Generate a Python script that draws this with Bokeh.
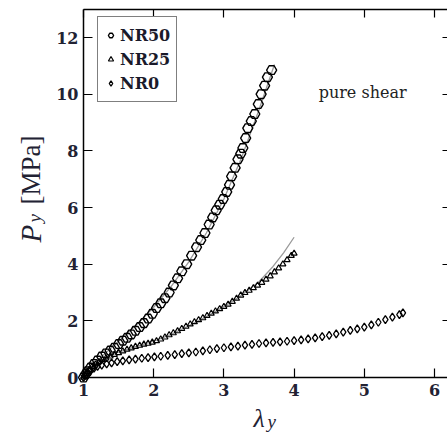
import math
from bokeh.plotting import figure
from bokeh.models import (Label, Legend, LegendItem, LinearAxis, FixedTicker, Range1d)
from bokeh.embed import file_html
from bokeh.resources import INLINE

# ---------------- data ----------------
nr50_x = [1.00, 1.03, 1.06, 1.10, 1.15, 1.20, 1.26, 1.32, 1.38, 1.44, 1.50, 1.56,
          1.62, 1.68, 1.74, 1.80, 1.86, 1.92, 1.98, 2.04, 2.10, 2.16, 2.22, 2.28,
          2.34, 2.40, 2.47, 2.54, 2.61, 2.67, 2.73, 2.79, 2.84, 2.89, 2.94, 2.99,
          3.04, 3.08, 3.11, 3.16, 3.20, 3.24, 3.27, 3.31, 3.34, 3.39, 3.44, 3.49,
          3.53, 3.58, 3.62, 3.68]
nr50_y = [0.00, 0.12, 0.22, 0.35, 0.48, 0.60, 0.74, 0.85, 0.95, 1.05, 1.18, 1.30,
          1.40, 1.52, 1.65, 1.78, 1.92, 2.08, 2.25, 2.45, 2.62, 2.80, 3.00, 3.25,
          3.50, 3.75, 4.00, 4.30, 4.60, 4.85, 5.10, 5.40, 5.65, 5.90, 6.10, 6.30,
          6.55, 6.80, 7.10, 7.40, 7.70, 7.90, 8.10, 8.45, 8.80, 9.05, 9.30, 9.65,
          10.00, 10.30, 10.60, 10.85]

nr25_x = [1.00, 1.04, 1.08, 1.12, 1.17, 1.22, 1.27, 1.32, 1.38, 1.44, 1.50, 1.56,
          1.62, 1.68, 1.74, 1.80, 1.86, 1.92, 1.98, 2.04, 2.10, 2.16, 2.22, 2.28,
          2.34, 2.40, 2.46, 2.52, 2.58, 2.64, 2.70, 2.76, 2.82, 2.88, 2.94, 3.00,
          3.06, 3.12, 3.18, 3.24, 3.30, 3.36, 3.42, 3.48, 3.54, 3.60, 3.66, 3.72,
          3.78, 3.84, 3.90, 3.96, 4.00]
nr25_y = [0.00, 0.15, 0.27, 0.38, 0.47, 0.55, 0.62, 0.68, 0.75, 0.81, 0.87, 0.93,
          0.99, 1.04, 1.09, 1.13, 1.17, 1.20, 1.24, 1.29, 1.35, 1.42, 1.50, 1.57,
          1.64, 1.72, 1.80, 1.88, 1.96, 2.03, 2.10, 2.18, 2.26, 2.34, 2.42, 2.50,
          2.58, 2.68, 2.79, 2.90, 2.99, 3.07, 3.16, 3.25, 3.35, 3.46, 3.58, 3.72,
          3.86, 4.00, 4.15, 4.30, 4.38]

nr0_x = [1.00, 1.03, 1.06, 1.10, 1.15, 1.20, 1.26, 1.33, 1.40, 1.48, 1.56, 1.65,
         1.74, 1.83, 1.92, 2.01, 2.10, 2.20, 2.30, 2.40, 2.50, 2.60, 2.70, 2.80,
         2.90, 3.00, 3.10, 3.20, 3.30, 3.40, 3.50, 3.60, 3.70, 3.80, 3.90, 4.00,
         4.10, 4.20, 4.30, 4.40, 4.50, 4.60, 4.70, 4.80, 4.90, 5.00, 5.10, 5.20,
         5.30, 5.40, 5.50, 5.55]
nr0_y = [0.00, 0.10, 0.18, 0.26, 0.33, 0.39, 0.44, 0.48, 0.52, 0.56, 0.59, 0.62,
         0.65, 0.68, 0.70, 0.73, 0.75, 0.78, 0.81, 0.84, 0.87, 0.90, 0.94, 0.98,
         1.02, 1.05, 1.08, 1.11, 1.14, 1.17, 1.20, 1.22, 1.24, 1.26, 1.28, 1.30,
         1.33, 1.36, 1.40, 1.44, 1.49, 1.54, 1.60, 1.66, 1.72, 1.78, 1.86, 1.95,
         2.04, 2.13, 2.22, 2.28]

# model fit curves (grey)
fit50_x = [1.00, 1.25, 1.50, 1.75, 2.00, 2.25, 2.50, 2.75, 3.00, 3.25, 3.50, 3.72]
fit50_y = [0.00, 0.72, 1.28, 1.85, 2.48, 3.22, 4.08, 5.10, 6.30, 7.75, 9.45, 11.05]
fit25_x = [1.00, 1.25, 1.50, 1.75, 2.00, 2.25, 2.50, 2.75, 3.00, 3.25, 3.50, 3.70, 3.85, 4.00]
fit25_y = [0.00, 0.60, 0.90, 1.10, 1.28, 1.52, 1.82, 2.15, 2.50, 2.90, 3.38, 3.92, 4.40, 4.95]

x_ticks = [1, 2, 3, 4, 5, 6]
y_ticks = [0, 2, 4, 6, 8, 10, 12]
series_names = ["NR50", "NR25", "NR0"]

# ---------------- layout constants ----------------
FONT = "DejaVu Serif"
TFONT = "Liberation Serif"
W, H = 447, 443
X_LO, X_HI = 1.0, 6.185      # plotted box in data units
Y_LO, Y_HI = 0.0, 13.0
# the frame covers the whole canvas; axes are pinned inside it
x_view = (-0.1823, 6.185)
y_view = (-2.329, 13.306)

p = figure(width=W, height=H, output_backend="svg", toolbar_location=None,
           x_range=Range1d(*x_view), y_range=Range1d(*y_view),
           min_border=0, min_border_left=0, min_border_right=0,
           min_border_top=0, min_border_bottom=0,
           background_fill_color="white", border_fill_color="white")
p.grid.visible = False
p.outline_line_color = None


def style_axis(ax, ticks, tick_in, show_labels=True, line=True):
    ax.ticker = FixedTicker(ticks=ticks)
    ax.major_tick_in = tick_in
    ax.major_tick_out = 0
    ax.minor_tick_in = 0
    ax.minor_tick_out = 0
    ax.axis_line_width = 1.5
    ax.axis_line_color = "black" if line else None
    ax.major_tick_line_width = 1.2
    ax.major_label_text_font = FONT
    ax.major_label_text_font_style = "bold"
    ax.major_label_text_font_size = "16px"
    ax.major_label_text_color = "#222233" if show_labels else None


xa = p.xaxis[0]
ya = p.yaxis[0]
style_axis(xa, x_ticks, 9)
style_axis(ya, y_ticks, 9)
xa.fixed_location = Y_LO
xa.bounds = (X_LO, X_HI)
ya.fixed_location = X_LO
ya.bounds = (Y_LO, Y_HI)
xa.major_label_standoff = 6
ya.major_label_standoff = 5

top = LinearAxis()
style_axis(top, x_ticks, 8, show_labels=False)
top.fixed_location = Y_HI
top.bounds = (X_LO, X_HI)
right = LinearAxis()
style_axis(right, y_ticks, 5, show_labels=False, line=False)
right.fixed_location = X_HI
right.bounds = (Y_LO, Y_HI)
p.add_layout(top, "above")
p.add_layout(right, "right")

# fit lines
p.line(fit50_x, fit50_y, line_color="#9a9a9a", line_width=1.3)
p.line(fit25_x, fit25_y, line_color="#9a9a9a", line_width=1.3)

# data markers
r50 = p.scatter(nr50_x, nr50_y, marker="hex", size=10, line_color="black",
                line_width=1.4, fill_alpha=0)
r25 = p.scatter(nr25_x, nr25_y, marker="triangle", size=6, line_color="black",
                line_width=1.2, fill_alpha=0)
r0 = p.scatter(nr0_x, nr0_y, marker="diamond", size=8, line_color="black",
               line_width=1.3, fill_alpha=0)

legend = Legend(items=[LegendItem(label=n, renderers=[r]) for n, r in
                       zip(series_names, [r50, r25, r0])],
                location=(97, 341), orientation="vertical",
                label_text_font=FONT, label_text_font_style="bold",
                label_text_font_size="16px", label_text_color="#1a1a2a",
                glyph_width=13, glyph_height=24, label_height=24, label_standoff=3,
                spacing=0, padding=6, margin=0,
                border_line_color="black", border_line_width=1.5,
                background_fill_color="white", background_fill_alpha=1)
p.add_layout(legend, "center")

# annotation
p.add_layout(Label(x=4.35, y=10.05, text="pure shear", text_font=FONT,
                   text_font_size="16px", text_baseline="middle",
                   text_color="#222222"))

# axis titles (screen units, y from the bottom of the canvas)
p.add_layout(Label(x=253, y=25, x_units="screen", y_units="screen", text="λ",
                   text_font=TFONT, text_font_style="italic", text_font_size="26px",
                   text_baseline="alphabetic", text_color="#222233"))
p.add_layout(Label(x=267, y=22, x_units="screen", y_units="screen", text="y",
                   text_font=TFONT, text_font_style="italic", text_font_size="19px",
                   text_baseline="alphabetic", text_color="#222233"))

p.add_layout(Label(x=30, y=201, x_units="screen", y_units="screen", text="P",
                   angle=math.pi / 2, text_font=TFONT, text_font_style="italic",
                   text_font_size="29px", text_baseline="alphabetic",
                   text_color="#222233"))
p.add_layout(Label(x=34, y=221, x_units="screen", y_units="screen", text="y",
                   angle=math.pi / 2, text_font=TFONT, text_font_style="italic",
                   text_font_size="19px", text_baseline="alphabetic",
                   text_color="#222233"))
p.add_layout(Label(x=30, y=239, x_units="screen", y_units="screen", text="[MPa]",
                   angle=math.pi / 2, text_font=TFONT, text_font_size="27px",
                   text_baseline="alphabetic", text_color="#222233"))

open("out.html", "w").write(file_html(p, INLINE))
